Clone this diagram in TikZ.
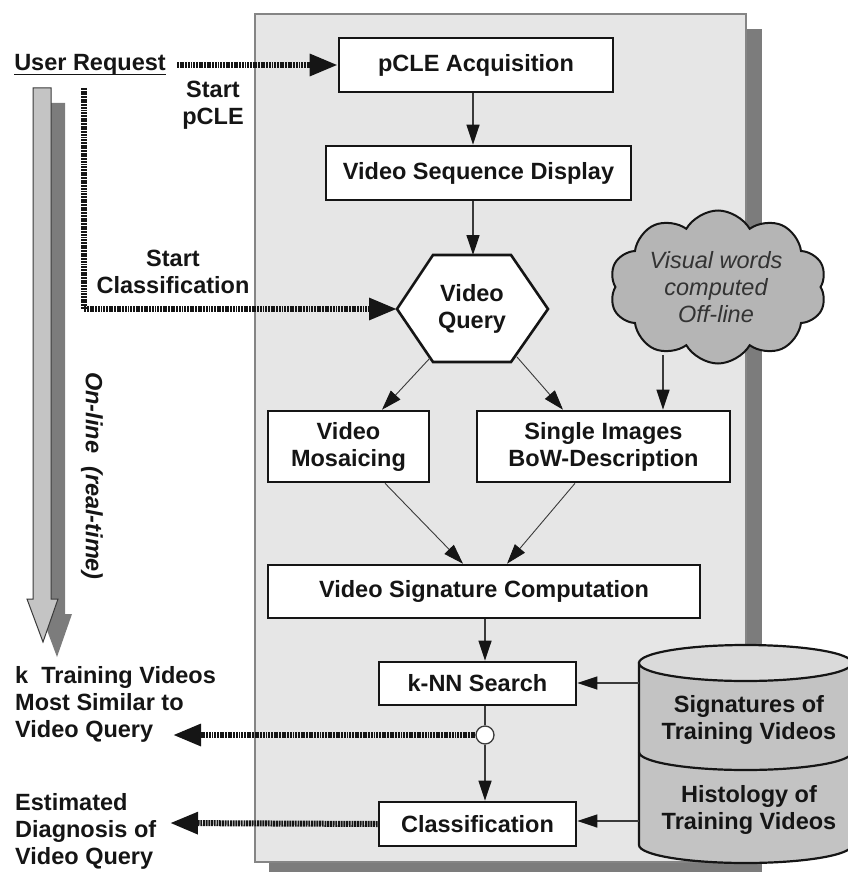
\documentclass[tikz,border=0pt]{standalone}
\usepackage{fontspec}
\setmainfont{Liberation Sans}
\usetikzlibrary{arrows.meta,shapes.symbols}
\definecolor{panelfill}{HTML}{E6E6E6}
\definecolor{panelline}{HTML}{858585}
\definecolor{shadowc}{HTML}{7C7C7C}
\definecolor{cylbody}{HTML}{C3C3C3}
\definecolor{cyltop}{HTML}{DADADA}
\definecolor{cloudc}{HTML}{B5B5B5}
\definecolor{ink}{HTML}{151515}
\definecolor{linec}{HTML}{3A3A3A}
\definecolor{arrowlight}{HTML}{C4C4C4}
\definecolor{cloudtext}{HTML}{333333}
\tikzset{
  lbl/.style={font=\fontsize{23.5}{27}\selectfont\bfseries, text=ink, inner sep=0pt, align=center},
  procbox/.style={lbl, draw=ink, line width=2.6pt, fill=white},
  flow/.style={draw=linec, line width=1.3pt, -{Triangle[length=20pt,width=13pt,color=ink]}},
  thinflow/.style={draw=linec, line width=0.9pt, -{Triangle[length=20pt,width=13pt,color=ink]}},
  dotarrow/.style={draw=ink, line width=6pt, dash pattern=on 1.9pt off 0.8pt, -{Triangle[length=28pt,width=21pt,color=ink]}},
}
\begin{document}
\begin{tikzpicture}[x=1pt,y=-1pt]
\useasboundingbox (0,0) rectangle (847,872);
% big on-line arrow (shadow then front)
\fill[shadowc] (47,103) -- (65,103) -- (65,614) -- (72,614) -- (57,657) -- (41,614) -- (47,614) -- cycle;
\filldraw[fill=arrowlight, draw=linec, line width=1pt] (33,88) -- (51,88) -- (51,599) -- (58,599) -- (43,642) -- (27,599) -- (33,599) -- cycle;
% panel
\fill[shadowc] (269,29) rectangle (762,876);
\filldraw[fill=panelfill, draw=panelline, line width=1.5pt] (255,14) rectangle (746,862);
% cylinder
\filldraw[fill=cylbody, draw=ink, line width=2.2pt] (639,663) -- (639,845) arc[start angle=180, end angle=0, x radius=106.5, y radius=18] -- (852,663) -- cycle;
\filldraw[fill=cyltop, draw=ink, line width=2.2pt] (745.5,663) ellipse[x radius=106.5, y radius=18];
\draw[ink, line width=2.2pt] (639,752) arc[start angle=180, end angle=0, x radius=106.5, y radius=18];
\node[lbl] (sig) at (749,720) {Signatures of\\Training Videos};
\node[lbl] (hist) at (749,810) {Histology of\\Training Videos};
\coordinate (cylA) at (639,683);
\coordinate (cylB) at (639,821);
% cloud
\node[cloud, cloud puffs=10, cloud puff arc=120, aspect=1.42, draw=ink, line width=2pt, fill=cloudc, minimum width=217pt, minimum height=153pt, inner sep=0pt] (cloud) at (718,287) {};
\node[font=\fontsize{23.5}{27}\selectfont\itshape, text=cloudtext, align=center, inner sep=0pt] (cloudtxt) at (716,287) {Visual words\\computed\\Off-line};
\coordinate (cloudout) at (663,355);
% boxes
\node[procbox, minimum width=274pt, minimum height=54pt] (pcle) at (476,65) {pCLE Acquisition};
\node[procbox, minimum width=305pt, minimum height=54pt] (vsd) at (478.5,173) {Video Sequence Display};
\draw[ink, line width=2.6pt, fill=white, line join=miter] (397,309) -- (433,255) -- (511,255) -- (548,309) -- (511,362) -- (433,362) -- cycle;
\node[lbl] (hex) at (472,309) {Video\\Query};
\coordinate (hexL) at (397,309);
\coordinate (hexT) at (473,255);
\coordinate (hexBL) at (430,358);
\coordinate (hexBR) at (517,357);
\node[procbox, minimum width=161pt, minimum height=71pt] (moz) at (348.5,446.5) {Video\\Mosaicing};
\node[procbox, minimum width=253pt, minimum height=71pt] (bow) at (603.5,446.5) {Single Images\\BoW-Description};
\node[procbox, minimum width=432pt, minimum height=53pt] (vsc) at (484,591.5) {Video Signature Computation};
\node[procbox, minimum width=197pt, minimum height=43pt] (knn) at (477.5,683.5) {k-NN Search};
\node[procbox, minimum width=197pt, minimum height=44pt] (cls) at (477.5,824) {Classification};
\node[circle, draw=linec, line width=1.3pt, fill=white, minimum size=18pt, inner sep=0pt] (circ) at (485,735) {};
% solid connectors
\draw[flow] (pcle.south -| hexT) -- (vsd.north -| hexT);
\draw[flow] (vsd.south -| hexT) -- (hexT);
\draw[flow] (cloudout) -- (cloudout |- bow.north);
\draw[thinflow] (hexBL) -- ([xshift=33.5pt]moz.north);
\draw[thinflow] (hexBR) -- ([xshift=-40.5pt]bow.north);
\draw[thinflow] ([xshift=36.5pt]moz.south) -- ([xshift=-21pt]vsc.north);
\draw[thinflow] ([xshift=-28.5pt]bow.south) -- ([xshift=23pt]vsc.north);
\draw[flow] (vsc.south -| circ) -- (knn.north -| circ);
\draw[draw=linec, line width=1.3pt] (knn.south -| circ) -- (circ.north);
\draw[flow] (circ.south) -- (cls.north -| circ);
\draw[flow] (cylA) -- (cylA -| knn.east);
\draw[flow] (cylB) -- (cylB -| cls.east);
% left side labels
\node[lbl] (ur) at (90,65) {User Request};
\draw[ink, line width=1.3pt] ([yshift=-4pt]ur.base west) -- ([yshift=-4pt]ur.base east);
\node[lbl] (startp) at (213,105) {Start\\pCLE};
\node[lbl] (startc) at (173,272) {Start\\Classification};
\node[lbl, font=\fontsize{23.5}{27}\selectfont\bfseries\itshape, rotate=-90] (online) at (92,476) {On-line~~(real-time)};
\node[lbl, align=left, anchor=west] (ktv) at (15,704) {k~~Training Videos\\Most Similar to\\Video Query};
\node[lbl, align=left, anchor=west] (est) at (15,831) {Estimated\\Diagnosis of\\Video Query};
\coordinate (urout) at (177,65);
\coordinate (urdown) at (84,88);
\coordinate (kout) at (173,735);
\coordinate (dout) at (170,823);
% dotted connectors
\draw[dotarrow] (urout) -- (pcle.west);
\draw[dotarrow] (urdown) |- (hexL);
\draw[dotarrow] (circ.west) -- (kout);
\draw[dotarrow] (cls.west) -- (dout);
\end{tikzpicture}
\end{document}
